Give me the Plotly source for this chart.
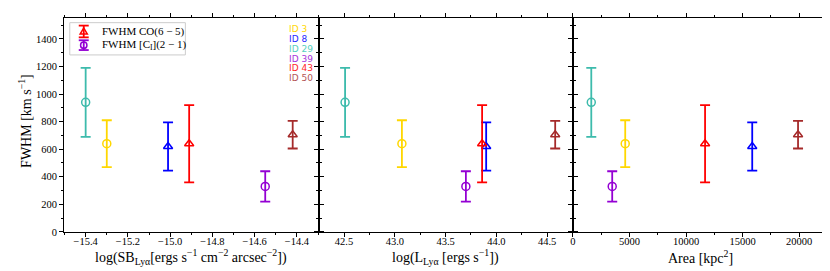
import plotly.graph_objects as go

# ---------------- data ----------------
ids = ["ID 3", "ID 8", "ID 29", "ID 39", "ID 43", "ID 50"]
tracer = ["CI", "CO", "CI", "CI", "CO", "CO"]
colors = ["#FFD700", "#0000FF", "#3DBBAC", "#9400D3", "#FF0000", "#A52A2A"]
label_colors = ["#FFD700", "#2626FF", "#55CFC0", "#A633DC", "#FF2626", "#B35555"]
fwhm = [640, 620, 940, 330, 640, 705]
fwhm_err = [170, 175, 250, 110, 280, 100]
log_sb = [-15.30, -15.01, -15.40, -14.55, -14.91, -14.42]
log_lya = [43.07, 43.90, 42.51, 43.70, 43.86, 44.58]
area = [4620, 15850, 1620, 3470, 11680, 19900]

legend_keys = ["CO", "CI"]
legend_names = {"CO": "FWHM CO(6 − 5)", "CI": "FWHM [C<sub>I</sub>](2 − 1)"}
legend_colors = {"CO": "#FF0000", "CI": "#9400D3"}
symbols = {"CO": "triangle-up-open", "CI": "circle-open"}

xtitles = ["log(SB<sub>Lyα</sub>[ergs s<sup>−1</sup> cm<sup>−2</sup> arcsec<sup>−2</sup>])",
           "log(L<sub>Lyα</sub> [ergs s<sup>−1</sup>])",
           "Area [kpc<sup>2</sup>]"]
ytitle = "FWHM [km s<sup>−1</sup>]"

W, H = 830, 271
FONT = "Liberation Serif, serif"


def px(x):
    return x / W


def py(y):
    return 1 - y / H


fig = go.Figure()

xs = [log_sb, log_lya, area]
for p, xv in enumerate(xs):
    xa = "x" if p == 0 else f"x{p+1}"
    ya = "y" if p == 0 else f"y{p+1}"
    for i in range(len(ids)):
        fig.add_trace(go.Scatter(
            x=[xv[i]], y=[fwhm[i]], xaxis=xa, yaxis=ya, mode="markers",
            marker=dict(symbol=symbols[tracer[i]], size=8, color=colors[i],
                        line=dict(width=1.5, color=colors[i])),
            error_y=dict(type="data", array=[fwhm_err[i]], color=colors[i],
                         thickness=1.8, width=5),
            showlegend=False, hoverinfo="skip"))

# panel geometry (pixels)
x_edges = [(53.3, 309.0), (309.0, 564.0), (564.0, 819.3)]
y_top, y_bot = 10.0, 229.0

common_axis = dict(showline=True, linecolor="black", linewidth=1, mirror="ticks",
                   ticks="outside", ticklen=4, tickwidth=1, tickcolor="black",
                   showgrid=False, zeroline=False,
                   tickfont=dict(family=FONT, size=10.5, color="black"))

xranges = [[-15.502, -14.296], [42.252, 44.755], [0, 22490]]
xticks = [dict(tick0=-15.4, dtick=0.2, tickformat=".1f", minor_dtick=0.1, minor_tick0=-15.5),
          dict(tick0=42.5, dtick=0.5, tickformat=".1f", minor_dtick=0.25, minor_tick0=42.25),
          dict(tick0=0, dtick=5000, tickformat="d", minor_dtick=2500, minor_tick0=0)]

layout = dict(width=W, height=H, margin=dict(l=0, r=0, t=0, b=0),
              paper_bgcolor="white", plot_bgcolor="white", showlegend=False,
              font=dict(family=FONT, color="black"))

for p in range(3):
    k = "" if p == 0 else str(p + 1)
    tk = xticks[p]
    layout["xaxis" + k] = dict(
        common_axis, domain=[px(x_edges[p][0]), px(x_edges[p][1])],
        range=xranges[p], anchor="y" + k, tickmode="linear",
        tick0=tk["tick0"], dtick=tk["dtick"], tickformat=tk["tickformat"],
        ticklabelstandoff=-5,
        minor=dict(ticks="outside", ticklen=2, tickwidth=1, tickcolor="black",
                   dtick=tk["minor_dtick"], tick0=tk["minor_tick0"]))
    layout["yaxis" + k] = dict(
        common_axis, domain=[py(y_bot), py(y_top)], range=[0, 1553],
        anchor="x" + k, tickmode="linear", tick0=0, dtick=200,
        showticklabels=(p == 0),
        minor=dict(ticks="outside", ticklen=2, tickwidth=1, tickcolor="black",
                   dtick=100, tick0=0))

annotations = []
# axis titles
for p in range(3):
    annotations.append(dict(
        text=xtitles[p], xref="paper", yref="paper",
        x=px((x_edges[p][0] + x_edges[p][1]) / 2), y=py(255),
        xanchor="center", yanchor="middle", showarrow=False, borderpad=0,
        font=dict(family=FONT, size=14, color="black")))
annotations.append(dict(
    text=ytitle, xref="paper", yref="paper", x=px(14.5), y=py(115),
    xanchor="center", yanchor="middle", showarrow=False, textangle=-90, borderpad=0,
    font=dict(family=FONT, size=14, color="black")))

# ID labels
for i, name in enumerate(ids):
    annotations.append(dict(
        text=name, xref="paper", yref="paper", x=px(278), y=py(21.7 + 10 * i),
        xanchor="left", yanchor="middle", showarrow=False, borderpad=0,
        font=dict(family="DejaVu Sans", size=9, color=label_colors[i])))

# legend (drawn as a framed key in the upper-left of the first panel)
shapes = [dict(type="rect", xref="paper", yref="paper",
               x0=px(59), x1=px(175), y0=py(48), y1=py(15),
               line=dict(color="#CCCCCC", width=1), fillcolor="white", layer="above")]
row_y = {"CO": 24.0, "CI": 38.0}
kx = 73.0
for key in legend_keys:
    c = legend_colors[key]
    yc = row_y[key]
    eh = 6.0 if key == "CO" else 5.0
    shapes.append(dict(type="line", xref="paper", yref="paper", x0=px(kx), x1=px(kx),
                       y0=py(yc + eh), y1=py(yc - eh), line=dict(color=c, width=1.8),
                       layer="above"))
    for yy in (yc - eh, yc + eh):
        shapes.append(dict(type="line", xref="paper", yref="paper",
                           x0=px(kx - 5), x1=px(kx + 5), y0=py(yy), y1=py(yy),
                           line=dict(color=c, width=1.8), layer="above"))
    if key == "CO":
        path = (f"M {px(kx - 3.6)},{py(yc + 2.6)} L {px(kx + 3.6)},{py(yc + 2.6)} "
                f"L {px(kx)},{py(yc - 3.6)} Z")
        shapes.append(dict(type="path", xref="paper", yref="paper", path=path,
                           line=dict(color=c, width=1.5), fillcolor="rgba(0,0,0,0)",
                           layer="above"))
    else:
        shapes.append(dict(type="circle", xref="paper", yref="paper",
                           x0=px(kx - 3.2), x1=px(kx + 3.2), y0=py(yc + 3.2), y1=py(yc - 3.2),
                           line=dict(color=c, width=1.5), fillcolor="rgba(0,0,0,0)",
                           layer="above"))
    annotations.append(dict(
        text=legend_names[key], xref="paper", yref="paper", x=px(90), y=py(yc),
        xanchor="left", yanchor="middle", showarrow=False, borderpad=0,
        font=dict(family=FONT, size=11, color="black")))

layout["annotations"] = annotations
layout["shapes"] = shapes

fig.update_layout(**layout)
fig.write_html("out.html")
